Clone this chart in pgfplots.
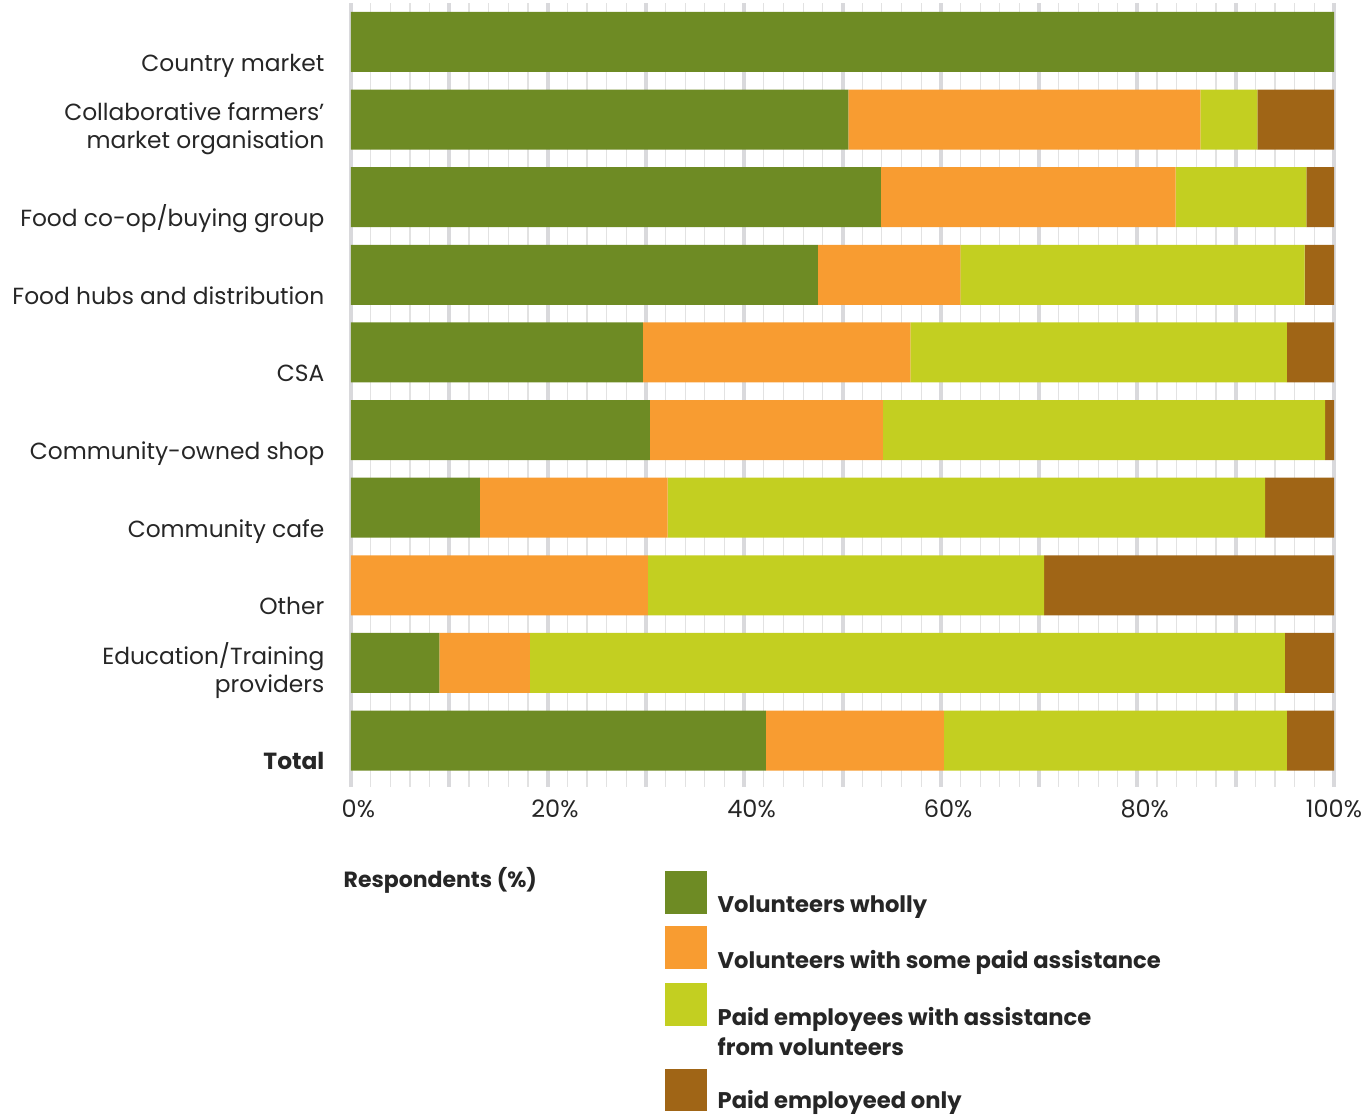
\documentclass[border=0pt]{standalone}
\usepackage{pgfplots}
\pgfplotsset{compat=1.18}
\usepackage{fontspec}
\setmainfont{Poppins}
\definecolor{cGreen}{HTML}{6E8B24}
\definecolor{cOrange}{HTML}{F89C31}
\definecolor{cLime}{HTML}{C3CF21}
\definecolor{cBrown}{HTML}{A06516}
\definecolor{gridMaj}{HTML}{D9D9DC}
\definecolor{gridMin}{HTML}{E2E2E2}
\definecolor{txt}{HTML}{262626}
\begin{document}
\begin{tikzpicture}
\useasboundingbox (-105.3pt,-98.37pt) rectangle (303.3pt,236.13pt);
\begin{axis}[
  at={(0,0)}, anchor=south west,
  scale only axis, width=294.9pt, height=235.2pt,
  xbar stacked, bar width=18pt,
  xmin=0, xmax=100, ymin=-0.5, ymax=9.6,
  y dir=reverse,
  axis line style={draw=none},
  tick style={draw=none},
  xtick={0,20,40,60,80,100},
  xticklabels={0\%,20\%,40\%,60\%,80\%,\hspace*{-4.4pt}100\%},
  minor xtick={2,4,6,8,12,14,16,18,22,24,26,28,32,34,36,38,42,44,46,48,52,54,56,58,62,64,66,68,72,74,76,78,82,84,86,88,92,94,96,98},
  xminorgrids=true,
  minor grid style={gridMin, line width=0.35pt},
  extra x ticks={0,10,20,30,40,50,60,70,80,90,100},
  extra x tick labels={},
  extra x tick style={xmajorgrids=true, major grid style={gridMaj, line width=1.2pt}, tick style={draw=none}},
  xticklabel style={font=\fontsize{7.2}{8}\selectfont, text=txt, inner sep=0pt, yshift=-3.5pt, xshift=2.2pt},
  ytick={0,1,2,3,4,5,6,7,8,9},
  yticklabels={Country market,{Collaborative farmers’\\market organisation},Food co-op/buying group,Food hubs and distribution,CSA,Community-owned shop,Community cafe,Other,{Education/Training\\providers},\textbf{Total}},
  yticklabel style={font=\fontsize{7.0}{8.4}\selectfont, text=txt, align=right, anchor=south east, inner sep=0pt, text depth=0pt, xshift=-7.8pt, yshift=-9.0pt},
  legend style={at={(0.3184,-0.1058)}, anchor=north west, draw=none, fill=none, inner sep=0pt,
    font=\bfseries\fontsize{6.8}{9}\selectfont, text=txt, row sep=2.6pt, column sep=3.3pt,
    nodes={inner sep=0pt},
    cells={anchor=base west}},
  legend cell align=left,
]
\addplot[fill=cGreen, draw=none, legend image code/.code={\fill[cGreen] (0pt,-2.1pt) rectangle (12.6pt,10.8pt);}] coordinates {(100,0) (50.6,1) (53.9,2) (47.5,3) (29.7,4) (30.4,5) (13.1,6) (0,7) (9.0,8) (42.2,9)};
\addplot[fill=cOrange, draw=none, legend image code/.code={\fill[cOrange] (0pt,-2.1pt) rectangle (12.6pt,10.8pt);}] coordinates {(0,0) (35.8,1) (30.0,2) (14.5,3) (27.2,4) (23.7,5) (19.1,6) (30.2,7) (9.2,8) (18.1,9)};
\addplot[fill=cLime, draw=none, legend image code/.code={\fill[cLime] (0pt,-2.1pt) rectangle (12.6pt,10.8pt);}] coordinates {(0,0) (5.8,1) (13.3,2) (35.0,3) (38.3,4) (45.0,5) (60.8,6) (40.3,7) (76.8,8) (34.9,9)};
\addplot[fill=cBrown, draw=none, legend image code/.code={\fill[cBrown] (0pt,-10.3pt) rectangle (12.6pt,2.3pt);}] coordinates {(0,0) (7.8,1) (2.8,2) (3.0,3) (4.8,4) (0.9,5) (7.0,6) (29.5,7) (5.0,8) (4.8,9)};
\legend{Volunteers wholly,Volunteers with some paid assistance,{\vtop{\baselineskip=9pt\hbox{Paid employees with assistance}\hbox{from volunteers}}},{\rule{0pt}{21.0pt}Paid employeed only}}
\end{axis}
\node[anchor=west, inner sep=0pt, font=\bfseries\fontsize{6.6}{8}\selectfont, text=txt] at (-2.4pt,-27.9pt) {Respondents (\%)};
\end{tikzpicture}
\end{document}
